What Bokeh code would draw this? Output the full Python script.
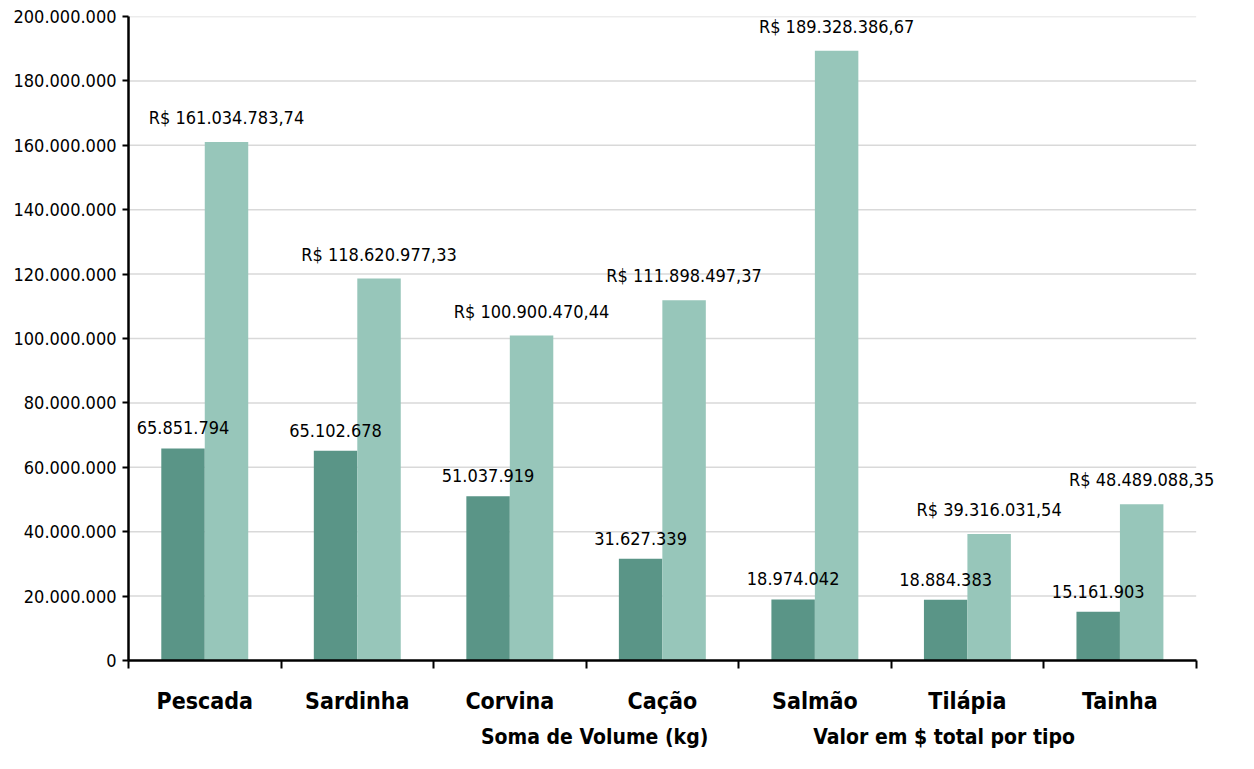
from bokeh.plotting import figure
from bokeh.layouts import column
from bokeh.models import ColumnDataSource, FixedTicker, Legend, LegendItem, LabelSet
from bokeh.core.properties import value
from bokeh.embed import file_html
from bokeh.resources import INLINE

categories = ["Pescada", "Sardinha", "Corvina", "Cação", "Salmão", "Tilápia", "Tainha"]
volume_kg = [65851794, 65102678, 51037919, 31627339, 18974042, 18884383, 15161903]
valor_rs = [161034783.74, 118620977.33, 100900470.44, 111898497.37, 189328386.67, 39316031.54, 48489088.35]
y_ticks = [0, 20000000, 40000000, 60000000, 80000000, 100000000, 120000000, 140000000, 160000000, 180000000, 200000000]
series_names = ["Soma de Volume (kg)", "Valor em $ total por tipo"]

FONT = "DejaVu Sans Condensed"
DARK = "#5a9587"
LIGHT = "#97c6ba"

def br_int(v):
    return f"{int(round(v)):,}".replace(",", ".")

def br_money(v):
    s = f"{v:,.2f}"
    s = s.replace(",", "X").replace(".", ",").replace("X", ".")
    return "R$ " + s

n = len(categories)
bw = 0.285
x_dark = [i + 0.5 - bw / 2 for i in range(n)]
x_light = [i + 0.5 + bw / 2 for i in range(n)]

src_dark = ColumnDataSource(dict(x=x_dark, top=volume_kg, label=[br_int(v) for v in volume_kg]))
src_light = ColumnDataSource(dict(x=x_light, top=valor_rs, label=[br_money(v) for v in valor_rs]))

p = figure(width=1238, height=716, x_range=(0, n + 0.12), y_range=(0, 200000000),
           output_backend="svg", toolbar_location=None,
           min_border_left=128, min_border_right=24, min_border_top=16, min_border_bottom=52)
p.outline_line_color = None
p.background_fill_color = "white"

# horizontal gridlines only across the category span
p.segment(x0=[0] * len(y_ticks), y0=y_ticks, x1=[n] * len(y_ticks), y1=y_ticks,
          line_color="#d9d9d9", line_width=1.5)

r1 = p.vbar(x="x", top="top", width=bw, source=src_dark, fill_color=DARK, line_color=None)
r2 = p.vbar(x="x", top="top", width=bw, source=src_light, fill_color=LIGHT, line_color=None)

for src in (src_dark, src_light):
    p.add_layout(LabelSet(x="x", y="top", text="label", source=src, text_align="center",
                          text_baseline="bottom", y_offset=14, text_font=value(FONT),
                          text_font_size="18px", text_color="black"))

# y axis
p.yaxis.ticker = FixedTicker(ticks=y_ticks)
p.yaxis.major_label_overrides = {t: br_int(t) for t in y_ticks}
p.yaxis.minor_tick_line_color = None
p.yaxis.major_tick_in = 0
p.yaxis.major_tick_out = 6
p.yaxis.major_tick_line_width = 2
p.yaxis.axis_line_width = 2.5
p.yaxis.axis_line_color = "black"
p.yaxis.major_label_text_font = FONT
p.yaxis.major_label_text_font_size = "18px"
p.yaxis.major_label_text_color = "black"
p.yaxis.major_label_standoff = 6

# x axis: labels at centers, ticks at boundaries
p.xaxis.bounds = (0, n)
p.xaxis.ticker = FixedTicker(ticks=[i + 0.5 for i in range(n)], minor_ticks=list(range(n + 1)))
p.xaxis.major_label_overrides = {i + 0.5: c for i, c in enumerate(categories)}
p.xaxis.major_tick_line_color = None
p.xaxis.major_tick_out = 6
p.xaxis.minor_tick_in = 0
p.xaxis.minor_tick_out = 8
p.xaxis.minor_tick_line_width = 2
p.xaxis.minor_tick_line_color = "black"
p.xaxis.axis_line_width = 2.5
p.xaxis.axis_line_color = "black"
p.xaxis.major_label_text_font = FONT
p.xaxis.major_label_text_font_size = "23px"
p.xaxis.major_label_text_font_style = "bold"
p.xaxis.major_label_text_color = "black"
p.xaxis.major_label_standoff = 19

p.xgrid.grid_line_color = None
p.ygrid.grid_line_color = None

# legend strip below the chart
p2 = figure(width=1238, height=37, x_range=(0, 1), y_range=(0, 1),
            x_axis_type=None, y_axis_type=None, output_backend="svg",
            toolbar_location=None, min_border=0)
p2.outline_line_color = None
l1 = p2.vbar(x=[], top=[], width=0.1, fill_color=DARK, line_color=None)
l2 = p2.vbar(x=[], top=[], width=0.1, fill_color=LIGHT, line_color=None)
legend = Legend(items=[LegendItem(label=series_names[0], renderers=[l1]),
                       LegendItem(label=series_names[1], renderers=[l2])],
                orientation="horizontal", location=(336, 4), spacing=88,
                label_text_font=FONT, label_text_font_size="21px", label_text_font_style="bold",
                label_text_color="black", label_height=20,
                glyph_width=13, glyph_height=13, label_standoff=4,
                border_line_color=None, background_fill_alpha=0, padding=0, margin=0)
p2.add_layout(legend, "center")

layout = column(p, p2, spacing=0)
open("out.html", "w").write(file_html(layout, INLINE))
